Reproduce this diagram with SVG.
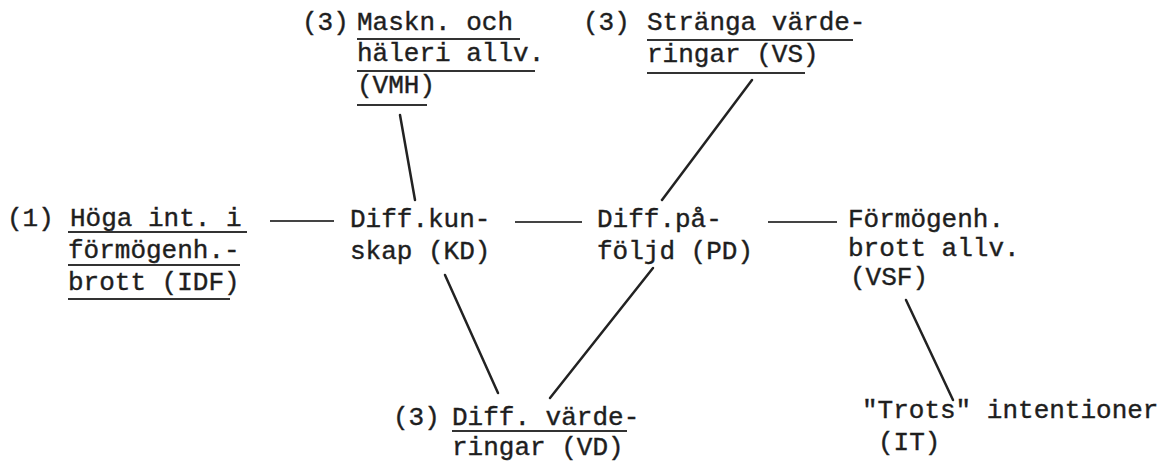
<svg xmlns="http://www.w3.org/2000/svg" width="1172" height="461" viewBox="0 0 1172 461">
<style>
text{font-family:"Liberation Mono","Courier New",monospace;font-size:26px;fill:#1e1e1e;stroke:#1e1e1e;stroke-width:0.4px}
.ul{stroke:#333;stroke-width:2;fill:none}
.edge{stroke:#222;stroke-width:2.5;fill:none;stroke-linecap:round}
.dash{stroke:#444;stroke-width:2;fill:none}
</style>
<rect width="1172" height="461" fill="#fff"/>
<g id="IDF">
<text x="7" y="226">(1)</text>
<text x="70" y="226">Höga int. i</text>
<text x="68" y="258">förmögenh.-</text>
<text x="68" y="290">brott (IDF)</text>
<line class="ul" x1="68" y1="232" x2="247" y2="232"/>
<line class="ul" x1="68" y1="265" x2="240" y2="265"/>
<line class="ul" x1="68" y1="299" x2="230" y2="299"/>
</g>
<g id="KD">
<text x="350" y="227">Diff.kun-</text>
<text x="350" y="259">skap (KD)</text>
</g>
<g id="PD">
<text x="597" y="227">Diff.på-</text>
<text x="597" y="259">följd (PD)</text>
</g>
<g id="VSF">
<text x="848" y="227">Förmögenh.</text>
<text x="848" y="256">brott allv.</text>
<text x="850" y="285">(VSF)</text>
</g>
<g id="VMH">
<text x="302" y="30">(3)</text>
<text x="357" y="30">Maskn. och</text>
<text x="357" y="61">häleri allv.</text>
<text x="357" y="93">(VMH)</text>
<line class="ul" x1="357" y1="39" x2="520" y2="39"/>
<line class="ul" x1="357" y1="71" x2="535" y2="71"/>
<line class="ul" x1="357" y1="105" x2="427" y2="105"/>
</g>
<g id="VS">
<text x="583" y="30">(3)</text>
<text x="647" y="30">Stränga värde-</text>
<text x="647" y="62">ringar (VS)</text>
<line class="ul" x1="647" y1="40" x2="853" y2="40"/>
<line class="ul" x1="647" y1="73" x2="805" y2="73"/>
</g>
<g id="VD">
<text x="393" y="425">(3)</text>
<text x="452" y="425">Diff. värde-</text>
<text x="452" y="455">ringar (VD)</text>
<line class="ul" x1="452" y1="431" x2="627" y2="431"/>
</g>
<g id="IT">
<text x="862" y="418">"Trots" intentioner</text>
<text x="878" y="450">(IT)</text>
</g>
<g id="connectors">
<line class="dash" x1="270" y1="221" x2="334" y2="221"/>
<line class="dash" x1="515" y1="222" x2="582" y2="222"/>
<line class="dash" x1="768" y1="222" x2="837" y2="222"/>
<line class="edge" x1="400" y1="115" x2="415" y2="200"/>
<line class="edge" x1="752" y1="80" x2="662" y2="200"/>
<line class="edge" x1="445" y1="275" x2="498" y2="393"/>
<line class="edge" x1="653" y1="268" x2="550" y2="398"/>
<line class="edge" x1="906" y1="300" x2="953" y2="400"/>
</g>
</svg>
